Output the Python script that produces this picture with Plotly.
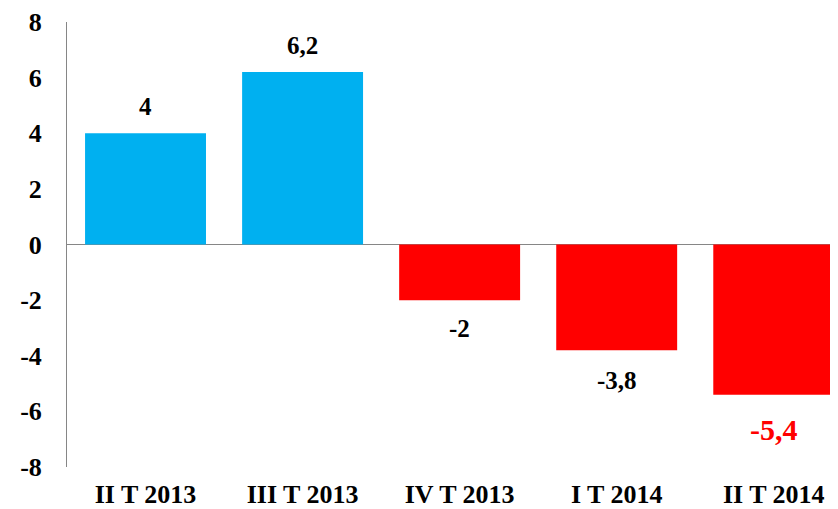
import plotly.graph_objects as go

categories = ["II T 2013", "III T 2013", "IV T 2013", "I T 2014", "II T 2014"]
values = [4, 6.2, -2, -3.8, -5.4]
labels = ["4", "6,2", "-2", "-3,8", "-5,4"]
y_ticks = [-8, -6, -4, -2, 0, 2, 4, 6, 8]

colors = ["#00B0F0" if v > 0 else "#FF0000" for v in values]
SERIF = "Liberation Serif, Times New Roman, serif"

fig = go.Figure()
fig.add_trace(go.Bar(
    x=list(range(len(categories))), y=values,
    marker=dict(color=colors, line=dict(width=0)),
    width=0.77, hoverinfo="skip",
))

shifts = [27, 27, -28, -30, -35]
for i, (v, t) in enumerate(zip(values, labels)):
    last = i == len(values) - 1
    fig.add_annotation(
        x=i, y=v, text=f"<b>{t}</b>", showarrow=False,
        yshift=shifts[i],
        font=dict(family=SERIF, size=(30 if last else 25),
                  color=("#FF0000" if last else "#000000")),
    )

# the page has an 8px body margin, so the figure is sized/offset to compensate
fig.update_layout(
    width=830, height=501,
    margin=dict(l=59, r=3, t=14, b=42, autoexpand=False),
    paper_bgcolor="white", plot_bgcolor="white",
    showlegend=False,
    font=dict(family=SERIF, size=24, color="black"),
    xaxis=dict(
        range=[-0.5, 4.39], automargin=False,
        tickmode="array", tickvals=list(range(len(categories))),
        ticktext=[f"<b>{c}</b>" for c in categories],
        showgrid=False, zeroline=False, showline=False, ticks="",
        ticklabelstandoff=9,
        tickfont=dict(family=SERIF, size=26, color="black"),
    ),
    yaxis=dict(
        range=[-8, 8], automargin=False, tickmode="array", tickvals=y_ticks,
        ticktext=[f"<b>{v}</b>" for v in y_ticks],
        showgrid=False, zeroline=True, zerolinecolor="#868686", zerolinewidth=1,
        showline=True, linecolor="#868686", linewidth=1, ticks="",
        ticklabelstandoff=19,
        tickfont=dict(family=SERIF, size=26, color="black"),
    ),
)

fig.write_html("out.html")
